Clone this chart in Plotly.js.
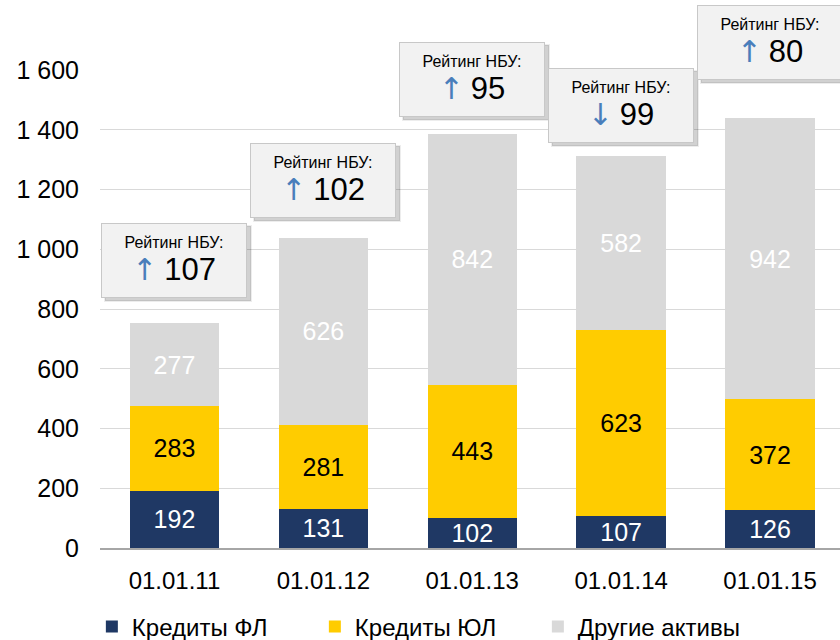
<!DOCTYPE html>
<html>
<head>
<meta charset="utf-8">
<script src="https://cdn.plot.ly/plotly-3.0.1.min.js"></script>
<style>html,body{margin:0;padding:0;background:#fff;}</style>
</head>
<body>
<div id="chart" style="width:840px;height:640px;"></div>
<script>
// ---- data ----
var categories = ['01.01.11', '01.01.12', '01.01.13', '01.01.14', '01.01.15'];
var loansFL = [192, 131, 102, 107, 126];
var loansUL = [283, 281, 443, 623, 372];
var otherAssets = [277, 626, 842, 582, 942];
var seriesNames = ['Кредиты ФЛ', 'Кредиты ЮЛ', 'Другие активы'];
var ratings = [107, 102, 95, 99, 80];
var ratingDir = ['up', 'up', 'up', 'down', 'up'];
var ratingLabel = 'Рейтинг НБУ:';
var yTicks = [0, 200, 400, 600, 800, 1000, 1200, 1400, 1600];

// ---- layout helpers (positions only) ----
var boxGap = [85, 67, 56, 44, 127];

var font = 'Arial, "Liberation Sans", sans-serif';
var colors = ['#1f3864', '#ffcc00', '#d9d9d9'];
var textColors = ['#ffffff', '#000000', '#ffffff'];
var seriesVals = [loansFL, loansUL, otherAssets];

var traces = seriesVals.map(function (vals, k) {
  return {
    type: 'bar',
    name: seriesNames[k],
    x: categories,
    y: vals,
    marker: {color: colors[k], line: {width: 0}},
    text: vals.map(String),
    textposition: 'inside',
    insidetextanchor: 'middle',
    constraintext: 'none',
    textangle: 0,
    textfont: {family: font, size: 25, color: textColors[k]},
    hoverinfo: 'skip'
  };
});

var annotations = [];
categories.forEach(function (c, i) {
  var total = loansFL[i] + loansUL[i] + otherAssets[i];
  var yb = total + boxGap[i];
  annotations.push({
    xref: 'x', yref: 'y', x: i, y: yb, xanchor: 'center', yanchor: 'bottom',
    text: '', showarrow: false, width: 142, height: 71, borderpad: 1,
    bgcolor: 'rgba(0,0,0,0.18)', bordercolor: 'rgba(0,0,0,0.07)', borderwidth: 2,
    xshift: 4, yshift: -4
  });
  var arrow = ratingDir[i] === 'up' ? '↑' : '↓';
  annotations.push({
    xref: 'x', yref: 'y', x: i, y: yb, xanchor: 'center', yanchor: 'bottom',
    text: '<span style="font-size:16px">' + ratingLabel + '</span><br>' +
          '<span style="color:#4a7ebb;font-size:30px;font-family:\'DejaVu Sans\'">' + arrow + '</span> ' +
          '<span style="font-size:31px">' + ratings[i] + '</span>',
    showarrow: false, width: 142, height: 71, borderpad: 1,
    bgcolor: '#f2f2f2', bordercolor: '#c8c8c8', borderwidth: 1,
    font: {family: font, size: 25, color: '#000000'},
    align: 'center', valign: 'middle'
  });
});

var layout = {
  width: 840, height: 640,
  margin: {l: 100, r: 0, t: 70, b: 92, autoexpand: false},
  paper_bgcolor: '#ffffff', plot_bgcolor: '#ffffff',
  barmode: 'stack',
  bargap: 0.4,
  separators: ', ',
  showlegend: true,
  legend: {
    orientation: 'h', x: -0.011, xanchor: 'left', y: -0.165, yanchor: 'middle',
    font: {family: font, size: 24, color: '#000000'},
    entrywidth: 178, entrywidthmode: 'pixels', traceorder: 'normal',
    bgcolor: 'rgba(0,0,0,0)'
  },
  xaxis: {
    type: 'category',
    range: [-0.5, 4.47],
    showgrid: false,
    showline: true, linecolor: '#a6a6a6', linewidth: 1.5,
    ticks: '',
    ticklabelstandoff: 11,
    tickfont: {family: font, size: 24, color: '#000000'},
    fixedrange: true
  },
  yaxis: {
    range: [0, 1600],
    tickvals: yTicks,
    tickformat: ',d',
    showgrid: true, gridcolor: '#d9d9d9', gridwidth: 1,
    zeroline: false,
    showline: false,
    ticks: '',
    ticklabelstandoff: 20,
    tickfont: {family: font, size: 25, color: '#000000'},
    fixedrange: true
  },
  annotations: annotations
};

Plotly.newPlot('chart', traces, layout, {displayModeBar: false, staticPlot: true});
</script>
</body>
</html>
